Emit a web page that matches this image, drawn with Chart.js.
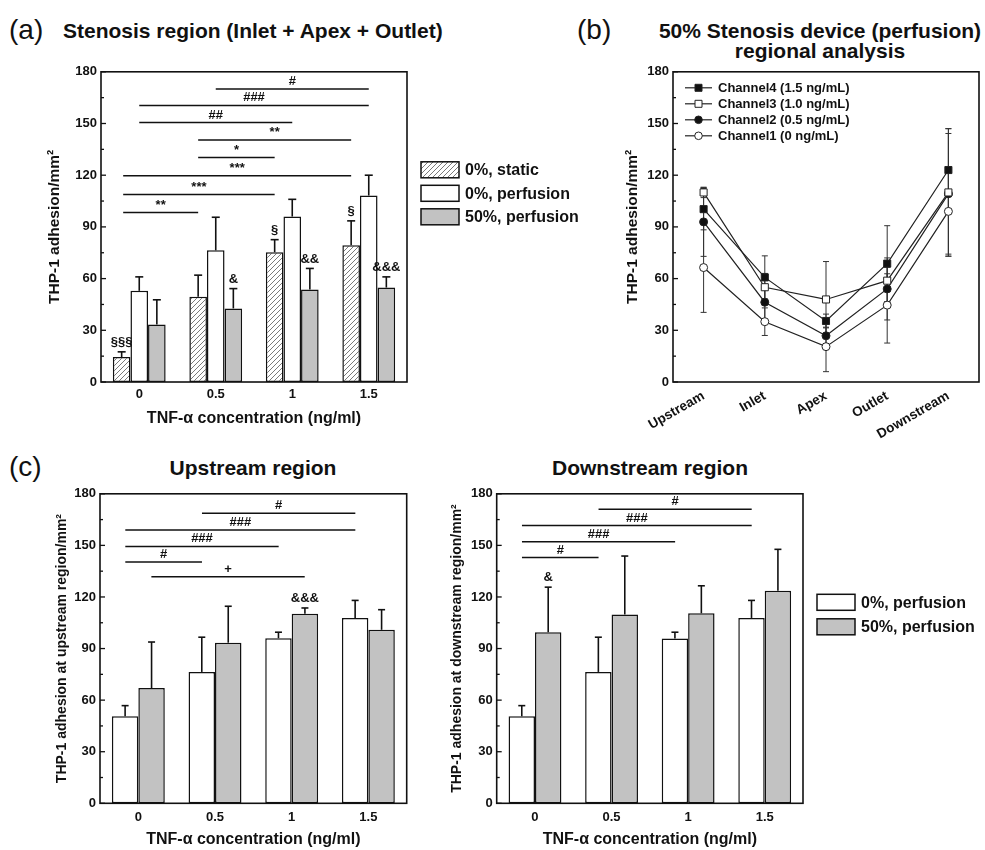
<!DOCTYPE html>
<html><head><meta charset="utf-8">
<script src="https://cdn.jsdelivr.net/npm/chart.js@4/dist/chart.umd.min.js"></script>
<style>
body{margin:0;width:985px;height:850px;background:#fff;position:relative;overflow:hidden;font-family:"Liberation Sans",Arial,sans-serif;color:#111;}
canvas{position:absolute;}
.t{position:absolute;white-space:nowrap;line-height:1;}
.b{font-weight:bold;}
</style></head><body>
<div class="t" style="left:9px;top:30px;transform:translateY(-50%);font-size:28px;">(a)</div>
<div class="t b" style="left:63px;top:30px;transform:translateY(-50%);font-size:21px;">Stenosis region (Inlet + Apex + Outlet)</div>
<div class="t" style="left:577px;top:30px;transform:translateY(-50%);font-size:28px;">(b)</div>
<div class="t b" style="left:820px;top:30px;transform:translate(-50%,-50%);font-size:21px;">50% Stenosis device (perfusion)</div>
<div class="t b" style="left:820px;top:50px;transform:translate(-50%,-50%);font-size:21px;">regional analysis</div>
<div class="t" style="left:9px;top:467px;transform:translateY(-50%);font-size:28px;">(c)</div>
<div class="t b" style="left:253px;top:467px;transform:translate(-50%,-50%);font-size:21px;">Upstream region</div>
<div class="t b" style="left:650px;top:467px;transform:translate(-50%,-50%);font-size:21px;">Downstream region</div>

<canvas id="ca" width="560" height="372" style="left:40px;top:60px;"></canvas>
<canvas id="cb" width="385" height="385" style="left:600px;top:60px;"></canvas>
<canvas id="cc" width="370" height="368" style="left:40px;top:482px;"></canvas>
<canvas id="cd" width="545" height="368" style="left:440px;top:482px;"></canvas>

<script>
// ---------- data ----------
const concLabels = ['0', '0.5', '1', '1.5'];
const regionLabels = ['Upstream', 'Inlet', 'Apex', 'Outlet', 'Downstream'];

// (a) stenosis region
const aStatic = [14.5, 49.4, 75.3, 79.3];
const aStaticErr = [3, 12.6, 7.3, 14.2];
const aPerf0 = [52.9, 76.4, 96, 108.2];
const aPerf0Err = [8.1, 19.2, 10, 11.8];
const aPerf50 = [33.3, 42.7, 53.7, 54.8];
const aPerf50Err = [14.4, 11.5, 12.2, 6.2];
// significance: [label, fromIndex, toIndex, level]
const aSig = [['#', 1, 3, 170], ['###', 0, 3, 160.5], ['##', 0, 2, 150.6], ['**', 0.77, 2.77, 140.4],
              ['*', 0.77, 1.77, 130.3], ['***', -0.21, 2.77, 119.7], ['***', -0.21, 1.77, 108.8], ['**', -0.21, 0.77, 98.4]];
const aMarks = [[0, 0, '§§§'], [2, 1, '&'], [0, 2, '§'], [2, 2, '&&'], [0, 3, '§'], [2, 3, '&&&']];

// (b) regional analysis
const ch4 = [100.3, 60.7, 35.4, 68.7, 123];
const ch4Err = [12, 12.5, 4, 22, 24];
const ch3 = [110, 55, 47.9, 58.8, 110];
const ch3Err = [3, 8, 22, 4, 37];
const ch2 = [92.9, 46.3, 26.8, 54, 109.2];
const ch2Err = [20, 10, 5, 18, 35];
const ch1 = [66.4, 35, 20.5, 44.6, 99];
const ch1Err = [26, 8, 14.5, 22, 26];

// (c) upstream
const upPerf0 = [50.6, 76.4, 96, 107.8];
const upPerf0Err = [6.2, 20.2, 3.5, 10.2];
const upPerf50 = [67, 93.4, 110.3, 100.9];
const upPerf50Err = [26.8, 21.2, 3.3, 11.7];
const upSig = [['#', 0.83, 2.83, 168.7], ['###', -0.17, 2.83, 159], ['###', -0.17, 1.83, 149.4],
               ['#', -0.17, 0.83, 140.4], ['+', 0.17, 2.17, 131.7]];
const upMarks = [[1, 2, '&&&']];

// (c) downstream
const dnPerf0 = [50.6, 76.4, 95.9, 107.8];
const dnPerf0Err = [6.2, 20.2, 3.6, 10.2];
const dnPerf50 = [99.5, 109.8, 110.5, 123.6];
const dnPerf50Err = [26.2, 34, 16, 24.1];
const dnSig = [['#', 0.83, 2.83, 171], ['###', -0.17, 2.83, 161.5], ['###', -0.17, 1.83, 152.1], ['#', -0.17, 0.83, 142.9]];
const dnMarks = [[1, 0, '&']];

// ---------- setup ----------
const FONT = "'Liberation Sans', Arial, Helvetica, sans-serif";
Chart.defaults.font.family = FONT;
Chart.defaults.color = '#111';
Chart.defaults.animation = false;

const GRAY = '#c2c2c2';
function hatch() {
  const c = document.createElement('canvas'); c.width = 5; c.height = 5;
  const g = c.getContext('2d');
  g.fillStyle = '#fff'; g.fillRect(0, 0, 5, 5);
  g.strokeStyle = '#7a7a7a'; g.lineWidth = 1;
  g.beginPath();
  g.moveTo(0, 5); g.lineTo(5, 0);
  g.moveTo(-1, 1); g.lineTo(1, -1);
  g.moveTo(4, 6); g.lineTo(6, 4);
  g.stroke();
  return g.createPattern(c, 'repeat');
}
const HATCH = hatch();

function yAxis(title, w, pt, fs) {
  return {
    min: 0, max: 180,
    ticks: { stepSize: 15, autoSkip: false, padding: 4, font: { size: 13, weight: 'bold' }, color: '#111',
             callback: v => (v % 30 === 0 ? String(v) : '') },
    grid: { display: false, drawTicks: false }, border: { display: false },
    title: { display: true, text: title, color: '#111', font: { size: fs, weight: 'bold' }, padding: { top: pt, bottom: 0 } },
    afterFit: s => { s.width = w; }
  };
}
function xAxis(h, withTitle, tickPad, pb, rot, tfs) {
  const o = {
    type: 'category', offset: true,
    ticks: { padding: tickPad, font: { size: tfs || 13, weight: 'bold' }, color: '#111', autoSkip: false },
    grid: { display: false, drawTicks: false }, border: { display: false },
    afterFit: s => { s.height = h; }
  };
  if (rot) { o.ticks.minRotation = rot; o.ticks.maxRotation = rot; }
  if (withTitle) o.title = { display: true, text: 'TNF-α concentration (ng/ml)', color: '#111',
                             font: { size: 16, weight: 'bold' }, padding: { top: 0, bottom: pb } };
  return o;
}

function line(ctx, x1, y1, x2, y2) { ctx.beginPath(); ctx.moveTo(x1, y1); ctx.lineTo(x2, y2); ctx.stroke(); }

function makeDeco(cfg) {
  return {
    id: 'deco',
    beforeDatasetsDraw(chart) {
      if (cfg.errMode !== 'both') return;
      const ctx = chart.ctx, ys = chart.scales.y;
      ctx.save(); ctx.strokeStyle = '#333'; ctx.lineWidth = 1;
      chart.data.datasets.forEach((ds, di) => {
        chart.getDatasetMeta(di).data.forEach((el, i) => {
          const v = ds.data[i], e = ds.err[i];
          const yt = ys.getPixelForValue(v + e), yb = ys.getPixelForValue(v - e);
          line(ctx, el.x, yb, el.x, yt);
          line(ctx, el.x - 3, yt, el.x + 3, yt);
          line(ctx, el.x - 3, yb, el.x + 3, yb);
        });
      });
      ctx.restore();
    },
    afterDatasetsDraw(chart) {
      const ctx = chart.ctx, ca = chart.chartArea, ys = chart.scales.y, xs = chart.scales.x;
      ctx.save();
      ctx.strokeStyle = '#111'; ctx.fillStyle = '#111';
      // error bars (upward only) for bars
      if (cfg.errMode === 'up') {
        ctx.lineWidth = 1.6;
        chart.data.datasets.forEach((ds, di) => {
          chart.getDatasetMeta(di).data.forEach((el, i) => {
            const yt = ys.getPixelForValue(ds.data[i] + ds.err[i]);
            line(ctx, el.x, el.y, el.x, yt);
            line(ctx, el.x - cfg.cap, yt, el.x + cfg.cap, yt);
          });
        });
      }
      // frame
      ctx.lineWidth = 1.6;
      ctx.strokeRect(ca.left, ca.top, ca.right - ca.left, ca.bottom - ca.top);
      // inward ticks on y axis
      ctx.lineWidth = 1.3;
      for (let v = 0; v <= 180; v += 15) {
        const py = ys.getPixelForValue(v);
        line(ctx, ca.left, py, ca.left + (v % 30 === 0 ? 5 : 3), py);
      }
      // significance lines
      ctx.font = 'bold 13px ' + FONT; ctx.textAlign = 'center'; ctx.textBaseline = 'bottom';
      ctx.lineWidth = 1.5;
      (cfg.sig || []).forEach(([t, a, b, lv]) => {
        const p1 = xs.getPixelForValue(a), p2 = xs.getPixelForValue(b), py = ys.getPixelForValue(lv);
        line(ctx, p1, py, p2, py);
        ctx.fillText(t, (p1 + p2) / 2, py - 1);
      });
      // marks above error bars
      (cfg.marks || []).forEach(([di, i, t]) => {
        const ds = chart.data.datasets[di];
        const el = chart.getDatasetMeta(di).data[i];
        const yt = ys.getPixelForValue(ds.data[i] + ds.err[i]);
        ctx.fillText(t, el.x, yt - 3);
      });
      // legend outside (box style)
      if (cfg.boxLegend) {
        const L = cfg.boxLegend;
        ctx.font = 'bold ' + L.size + 'px ' + FONT; ctx.textAlign = 'left'; ctx.textBaseline = 'middle';
        chart.data.datasets.forEach((ds, k) => {
          const cy = ca.top + L.y0 + k * L.dy;
          const bx = ca.right + L.dx;
          ctx.fillStyle = ds.backgroundColor;
          ctx.fillRect(bx, cy - 8, 38, 16);
          ctx.lineWidth = 1.5; ctx.strokeStyle = '#111';
          ctx.strokeRect(bx, cy - 8, 38, 16);
          ctx.fillStyle = '#111';
          ctx.fillText(ds.label, bx + 44, cy + 1);
        });
      }
      // line legend inside
      if (cfg.lineLegend) {
        ctx.font = 'bold 13px ' + FONT; ctx.textAlign = 'left'; ctx.textBaseline = 'middle';
        chart.data.datasets.forEach((ds, k) => {
          const cy = ca.top + 16 + k * 16;
          const x0 = ca.left + 12, x1 = ca.left + 39, mx = (x0 + x1) / 2;
          ctx.strokeStyle = '#222'; ctx.lineWidth = 1.2;
          line(ctx, x0, cy, x1, cy);
          ctx.fillStyle = ds.pointBackgroundColor; ctx.lineWidth = 1;
          ctx.beginPath();
          if (ds.pointStyle === 'rect') ctx.rect(mx - 3.5, cy - 3.5, 7, 7);
          else ctx.arc(mx, cy, 3.8, 0, Math.PI * 2);
          ctx.fill(); ctx.stroke();
          ctx.fillStyle = '#111';
          ctx.fillText(ds.label, ca.left + 45, cy + 1);
        });
      }
      ctx.restore();
    }
  };
}

function barDs(label, data, err, fill) {
  return { label, data, err, backgroundColor: fill, borderColor: '#111', borderWidth: 1.5, borderSkipped: false,
           categoryPercentage: 0.69, barPercentage: 1.0 };
}

// ---------- (a) ----------
new Chart(document.getElementById('ca'), {
  type: 'bar',
  data: { labels: concLabels, datasets: [
    barDs('0%, static', aStatic, aStaticErr, HATCH),
    barDs('0%, perfusion', aPerf0, aPerf0Err, '#ffffff'),
    barDs('50%, perfusion', aPerf50, aPerf50Err, GRAY)
  ]},
  options: {
    responsive: false,
    layout: { padding: { top: 9, right: 193, left: 0, bottom: 0 } },
    plugins: { legend: { display: false }, tooltip: { enabled: false } },
    scales: { x: xAxis(50, true, 5, 3.4), y: yAxis('THP-1 adhesion/mm²', 61, 5.7, 15.5) }
  },
  plugins: [makeDeco({ errMode: 'up', cap: 4, sig: aSig, marks: aMarks, boxLegend: { dx: 14, y0: 98, dy: 23.5, size: 16 } })]
});

// ---------- (b) ----------
function lineDs(label, data, err, style, fill, r) {
  return { label, data, err, borderColor: '#222', borderWidth: 1.2, tension: 0, fill: false,
           pointStyle: style, pointRadius: r, pointBackgroundColor: fill, pointBorderColor: '#222', pointBorderWidth: 1 };
}
new Chart(document.getElementById('cb'), {
  type: 'line',
  data: { labels: regionLabels, datasets: [
    lineDs('Channel4 (1.5 ng/mL)', ch4, ch4Err, 'rect', '#111', 5),
    lineDs('Channel3 (1.0 ng/mL)', ch3, ch3Err, 'rect', '#fff', 5),
    lineDs('Channel2 (0.5 ng/mL)', ch2, ch2Err, 'circle', '#111', 4),
    lineDs('Channel1 (0 ng/mL)', ch1, ch1Err, 'circle', '#fff', 4)
  ]},
  options: {
    responsive: false,
    layout: { padding: { top: 9, right: 6, left: 0, bottom: 0 } },
    plugins: { legend: { display: false }, tooltip: { enabled: false } },
    scales: { x: xAxis(63, false, 6, 0, 30, 13.5), y: yAxis('THP-1 adhesion/mm²', 73, 23.7, 15.5) }
  },
  plugins: [makeDeco({ errMode: 'both', lineLegend: true })]
});

// ---------- (c) upstream ----------
new Chart(document.getElementById('cc'), {
  type: 'bar',
  data: { labels: concLabels, datasets: [
    barDs('0%, perfusion', upPerf0, upPerf0Err, '#ffffff'),
    barDs('50%, perfusion', upPerf50, upPerf50Err, GRAY)
  ]},
  options: {
    responsive: false,
    layout: { padding: { top: 9.7, right: 3.3, left: 0, bottom: 0 } },
    plugins: { legend: { display: false }, tooltip: { enabled: false } },
    scales: { x: xAxis(46.7, true, 6, 1.1), y: yAxis('THP-1 adhesion at upstream region/mm²', 60, 13.6, 14) }
  },
  plugins: [makeDeco({ errMode: 'up', cap: 3.5, sig: upSig, marks: upMarks })]
});

// ---------- (c) downstream ----------
new Chart(document.getElementById('cd'), {
  type: 'bar',
  data: { labels: concLabels, datasets: [
    barDs('0%, perfusion', dnPerf0, dnPerf0Err, '#ffffff'),
    barDs('50%, perfusion', dnPerf50, dnPerf50Err, GRAY)
  ]},
  options: {
    responsive: false,
    layout: { padding: { top: 9.7, right: 182, left: 0, bottom: 0 } },
    plugins: { legend: { display: false }, tooltip: { enabled: false } },
    scales: { x: xAxis(46.7, true, 6, 1.1), y: yAxis('THP-1 adhesion at downstream region/mm²', 56.7, 8.6, 14) }
  },
  plugins: [makeDeco({ errMode: 'up', cap: 3.5, sig: dnSig, marks: dnMarks, boxLegend: { dx: 14, y0: 108.5, dy: 24.5, size: 16 } })]
});
</script>
</body></html>
